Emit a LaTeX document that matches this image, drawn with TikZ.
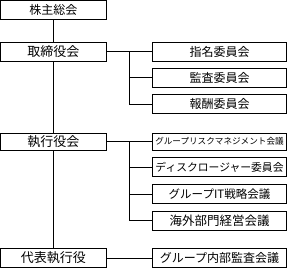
\documentclass[tikz,border=0pt]{standalone}
\usepackage{fontspec}
\setmainfont{Noto Sans CJK JP}
\begin{document}
\begin{tikzpicture}[x=1pt, y=-1pt, line width=.8pt, every node/.style={draw, align=center, inner sep=0pt, minimum height=19pt, font=\fontsize{12}{12}\selectfont}, lbox/.style={minimum width=105.5pt}, rbox/.style={minimum width=134.5pt}]
\useasboundingbox (0,0) rectangle (288,268);
\node[lbox] (a) at (53.25,9.5) {株主総会};
\node[lbox, font=\fontsize{13}{13}\selectfont] (b) at (53.25,51.5) {取締役会};
\node[lbox, font=\fontsize{13}{13}\selectfont, minimum height=17pt] (c) at (53.25,141.5) {執行役会};
\node[lbox, font=\fontsize{13}{13}\selectfont] (d) at (53.25,258) {代表執行役};
\node[rbox] (b1) at (219.5,51.5) {指名委員会};
\node[rbox] (b2) at (219.5,77.5) {監査委員会};
\node[rbox] (b3) at (219.5,104) {報酬委員会};
\node[rbox, font=\fontsize{8.6}{9}\selectfont, minimum height=17pt] (c1) at (219.5,141.5) {グループリスクマネジメント会議};
\node[rbox, font=\fontsize{10.8}{11}\selectfont] (c2) at (219.5,167) {ディスクロージャー委員会};
\node[rbox, font=\fontsize{11.5}{12}\selectfont] (c3) at (219.5,194) {グループIT戦略会議};
\node[rbox, font=\fontsize{12.5}{13}\selectfont] (c4) at (219.5,220.5) {海外部門経営会議};
\node[rbox] (d1) at (219.5,258) {グループ内部監査会議};
\coordinate (jb) at (129,51.5);
\coordinate (jc) at (129,141.5);
\draw (a) -- (b);
\draw (b) -- (c);
\draw (c) -- (d);
\draw (b) -- (b1);
\draw (jb) |- (b2.west);
\draw (jb) |- (b3.west);
\draw (c) -- (c1);
\draw (jc) |- (c2.west);
\draw (jc) |- (c3.west);
\draw (jc) |- (c4.west);
\draw (d) -- (d1);
\end{tikzpicture}
\end{document}
